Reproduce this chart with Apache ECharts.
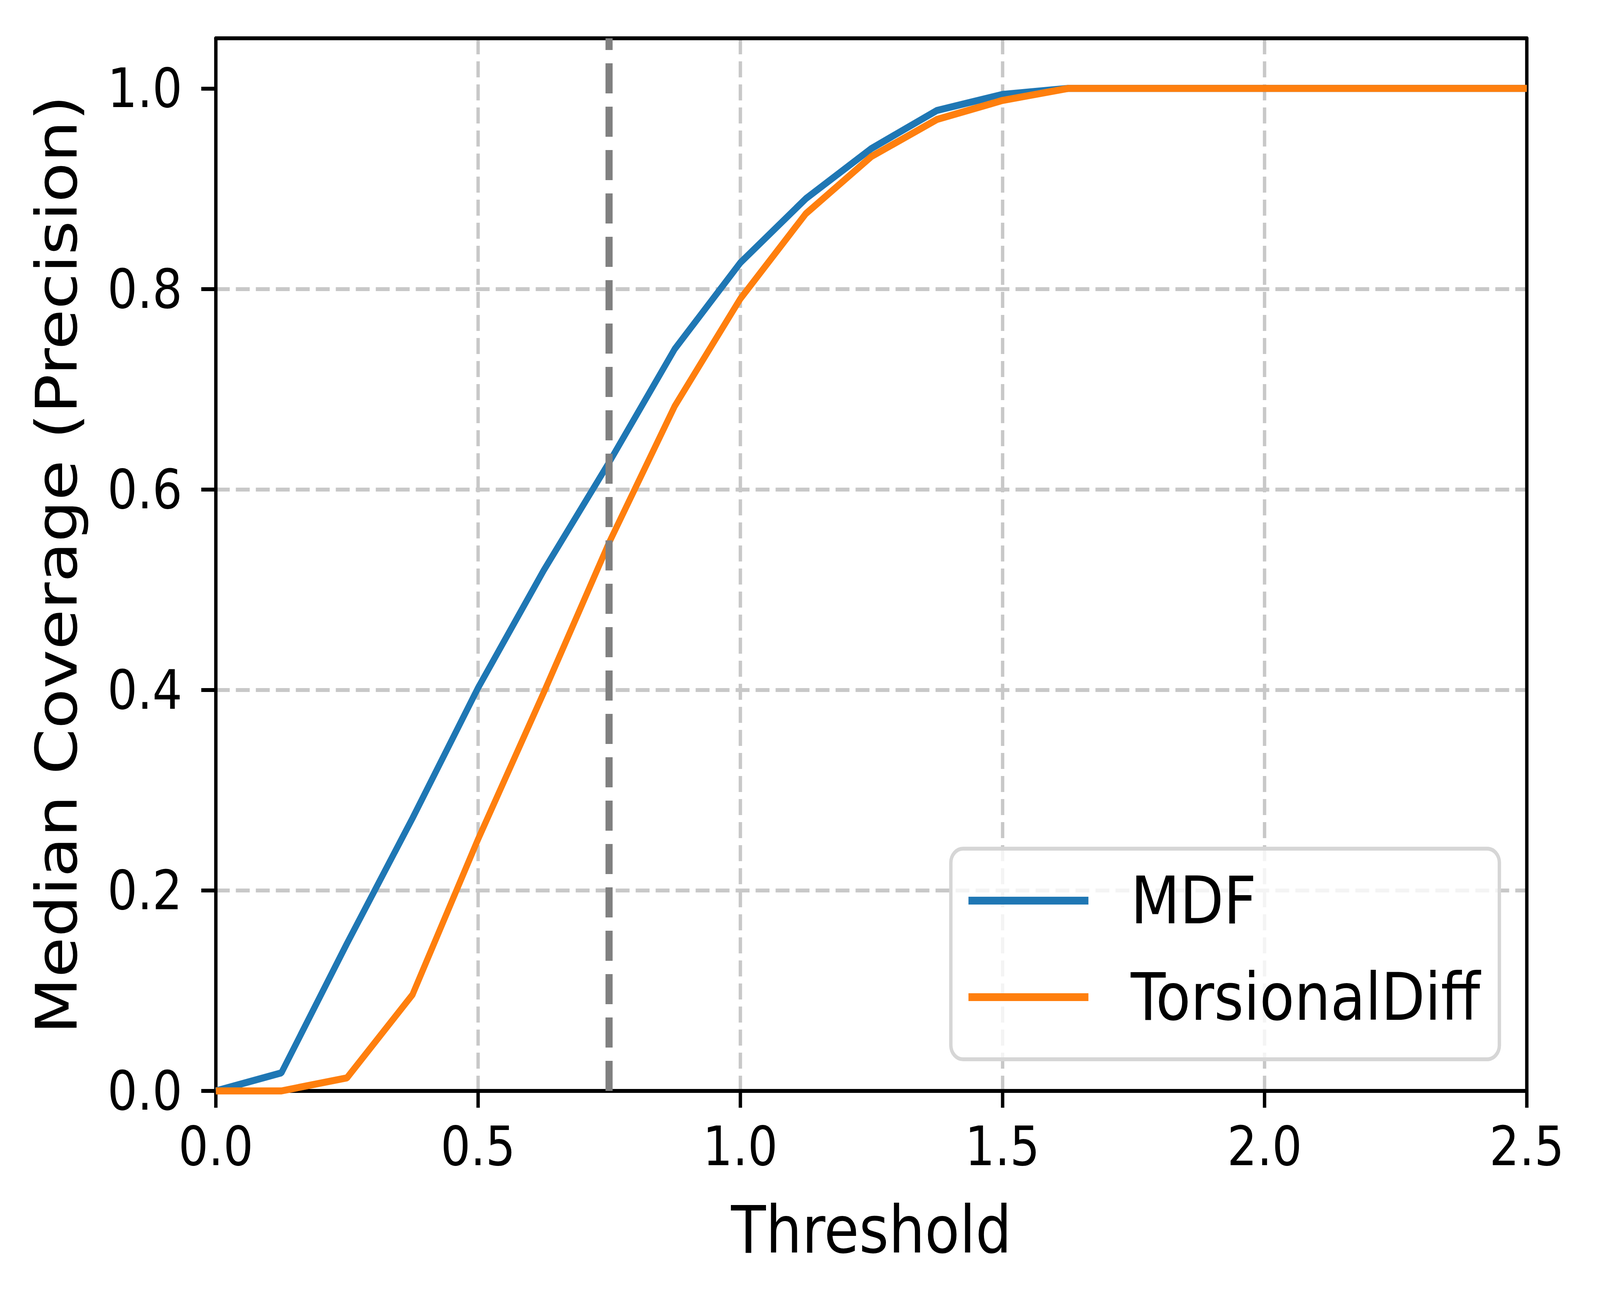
<!DOCTYPE html>
<html>
<head>
<meta charset="utf-8">
<title>Median Coverage (Precision)</title>
<script src="https://cdn.jsdelivr.net/npm/echarts@6.0.0/dist/echarts.min.js"></script>
<style>
  html, body { margin: 0; padding: 0; background: #fff; overflow: hidden; }
  #chart { width: 4722px; height: 3345px; transform-origin: 0 0; }
</style>
</head>
<body>
<div id="chart"></div>
<script>
// thresholds (x) and median coverage
var thresholds = [0.0, 0.125, 0.25, 0.375, 0.5, 0.625, 0.75, 0.875, 1.0, 1.125, 1.25,
  1.375, 1.5, 1.625, 1.75, 1.875, 2.0, 2.125, 2.25, 2.375, 2.5]
var mdf = [0.0, 0.018, 0.147, 0.272, 0.402, 0.519, 0.627, 0.740, 0.826, 0.890, 0.940,
  0.978, 0.994, 1.0, 1.0, 1.0, 1.0, 1.0, 1.0, 1.0, 1.0]
var torsionalDiff = [0.0, 0.0, 0.013, 0.096, 0.251, 0.397, 0.547, 0.683, 0.790, 0.875, 0.932,
  0.969, 0.988, 1.0, 1.0, 1.0, 1.0, 1.0, 1.0, 1.0, 1.0]
var xTicks = [0.0, 0.5, 1.0, 1.5, 2.0, 2.5]
var yTicks = [0.0, 0.2, 0.4, 0.6, 0.8, 1.0]
var cutoff = 0.75

var FONT = 'DejaVu Sans'

// the chart is laid out at 4722x3345 and fitted to whatever viewport we get
var el = document.getElementById('chart')
function fit () {
  el.style.transform = 'scale(' + (window.innerWidth / 4722) + ',' + (window.innerHeight / 3345) + ')'
}
fit()

function pairs (xs, ys) {
  return xs.map(function (x, i) { return [x, ys[i]] })
}

var gridLine = {
  show: true,
  showMinLine: false,
  showMaxLine: false,
  lineStyle: { color: '#c8c8c8', width: 10, type: [41, 18] }
}

var spine = { show: true, onZero: false, lineStyle: { color: '#000', width: 10 } }

var option = {
  animation: false,
  backgroundColor: '#fff',
  grid: { left: 637, right: 216, top: 98, bottom: 553, containLabel: false },
  legend: {
    orient: 'vertical',
    right: 297,
    bottom: 634,
    icon: 'rect',
    itemWidth: 354,
    itemHeight: 20,
    itemGap: 79,
    selectedMode: false,
    padding: [49, 57, 75, 52],
    backgroundColor: 'rgba(255,255,255,0.8)',
    borderColor: '#d6d6d6',
    borderWidth: 10,
    borderRadius: 36,
    textStyle: {
      fontFamily: FONT,
      fontSize: 168,
      lineHeight: 168,
      color: '#000',
      padding: [0, 0, 0, 120]
    },
    data: ['MDF', 'TorsionalDiff']
  },
  xAxis: [
    {
      type: 'value',
      position: 'bottom',
      min: 0,
      max: 2.5,
      interval: 0.5,
      axisLine: spine,
      axisTick: { show: true, length: 43, lineStyle: { color: '#000', width: 10 },
        customValues: xTicks },
      axisLabel: {
        fontFamily: FONT, fontSize: 139, color: '#000', margin: 72,
        customValues: xTicks,
        formatter: function (v) { return v.toFixed(1) }
      },
      splitLine: gridLine,
      name: 'Threshold',
      nameLocation: 'middle',
      nameGap: 272,
      nameTextStyle: { fontFamily: FONT, fontSize: 168, color: '#000' }
    },
    {
      type: 'value',
      position: 'top',
      min: 0,
      max: 2.5,
      axisLine: spine,
      axisTick: { show: false },
      axisLabel: { show: false },
      splitLine: { show: false }
    }
  ],
  yAxis: [
    {
      type: 'value',
      position: 'left',
      min: 0,
      max: 1.05,
      interval: 0.2,
      axisLine: spine,
      axisTick: { show: true, length: 43, lineStyle: { color: '#000', width: 10 },
        customValues: yTicks },
      axisLabel: {
        fontFamily: FONT, fontSize: 139, color: '#000', margin: 99,
        customValues: yTicks,
        formatter: function (v) { return v.toFixed(1) }
      },
      splitLine: gridLine,
      name: 'Median Coverage (Precision)',
      nameLocation: 'middle',
      nameGap: 385,
      nameTextStyle: { fontFamily: FONT, fontSize: 168, color: '#000' }
    },
    {
      type: 'value',
      position: 'right',
      min: 0,
      max: 1.05,
      axisLine: spine,
      axisTick: { show: false },
      axisLabel: { show: false },
      splitLine: { show: false }
    }
  ],
  series: [
    {
      name: 'MDF',
      type: 'line',
      xAxisIndex: 0,
      yAxisIndex: 0,
      showSymbol: false,
      symbol: 'none',
      color: '#1f77b4',
      lineStyle: { color: '#1f77b4', width: 18 },
      data: pairs(thresholds, mdf),
      markLine: {
        silent: true,
        symbol: 'none',
        label: { show: false },
        lineStyle: { color: '#808080', width: 21, type: [77, 34] },
        data: [{ xAxis: cutoff }]
      }
    },
    {
      name: 'TorsionalDiff',
      type: 'line',
      xAxisIndex: 0,
      yAxisIndex: 0,
      showSymbol: false,
      symbol: 'none',
      color: '#ff7f0e',
      lineStyle: { color: '#ff7f0e', width: 18 },
      data: pairs(thresholds, torsionalDiff)
    }
  ]
}

var chart = echarts.init(el, null, { renderer: 'svg', width: 4722, height: 3345 })
chart.setOption(option)
window.addEventListener('resize', fit)
</script>
</body>
</html>
